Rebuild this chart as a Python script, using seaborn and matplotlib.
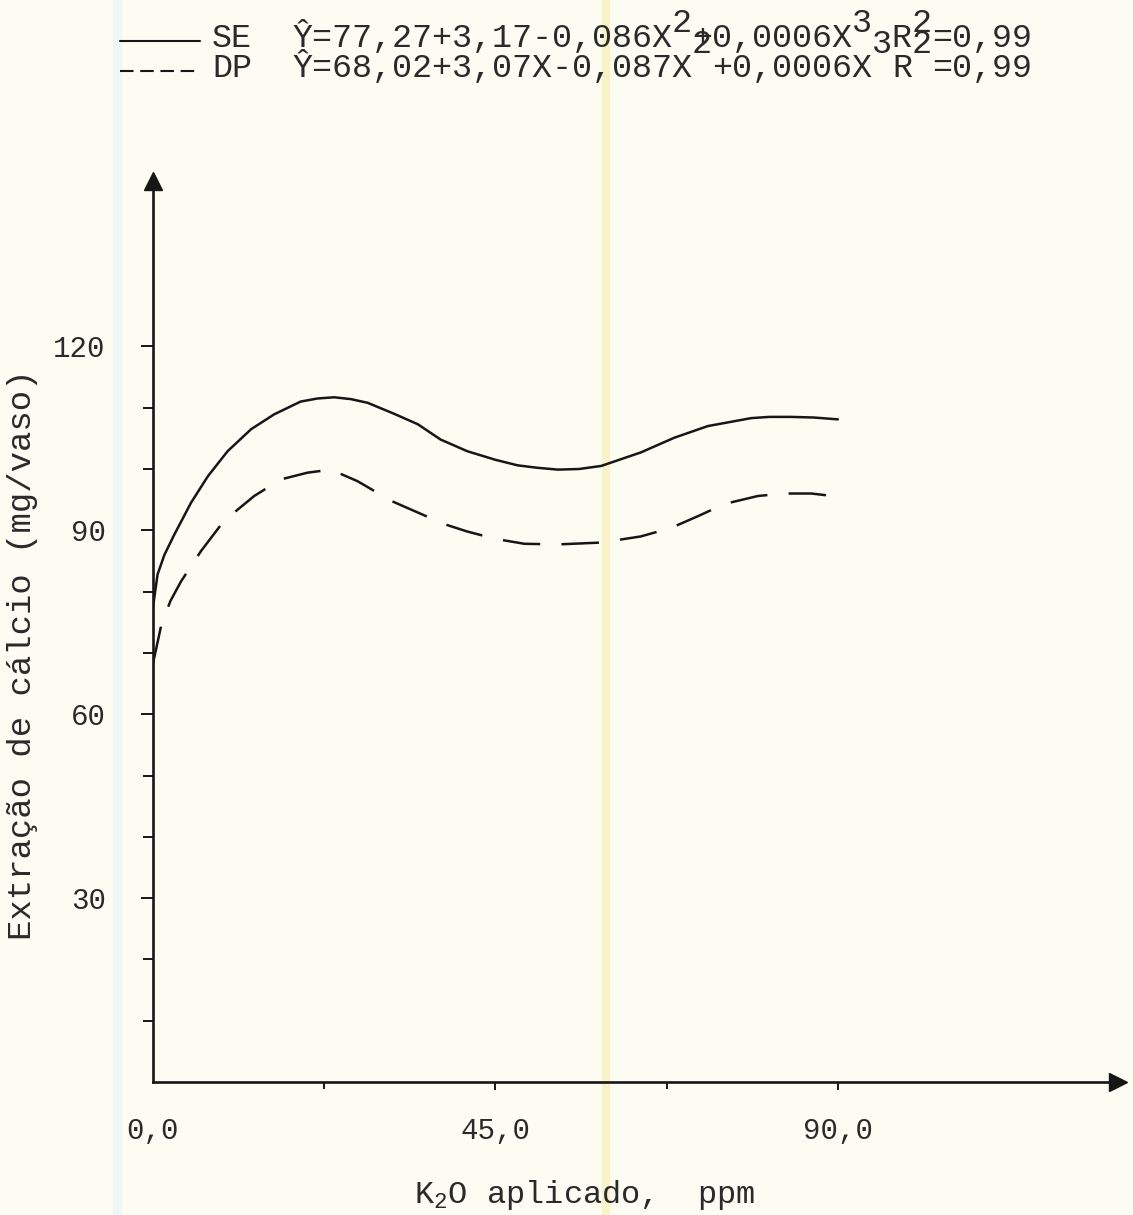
import matplotlib
matplotlib.use("Agg")
import matplotlib.pyplot as plt
from matplotlib.lines import Line2D
from matplotlib.patches import Rectangle
import pandas as pd
import seaborn as sns

# ---------------- data ----------------
dose_se = [0, 0.6, 1.5, 2.8, 5.0, 7.2, 9.8, 12.9, 15.9, 19.4, 21.6, 23.8, 26.0, 28.2,
           31.7, 34.8, 37.8, 41.3, 45.0, 47.9, 50.5, 53.2, 56.0, 58.9, 64.1, 68.5,
           72.9, 78.6, 81.0, 83.8, 86.8, 90.0]
calcio_se = [77.5, 82.8, 86.0, 89.3, 94.5, 98.8, 102.9, 106.5, 108.9, 111.0, 111.5,
             111.7, 111.4, 110.8, 109.0, 107.3, 104.8, 102.9, 101.5, 100.6, 100.2,
             99.9, 100.0, 100.5, 102.7, 105.1, 107.0, 108.3, 108.5, 108.5, 108.4, 108.1]
dose_dp = [0, 1.1, 2.3, 3.7, 6.3, 9.3, 13.3, 16.8, 20.3, 23.4, 24.3, 26.9, 31.3, 34.8,
           38.3, 41.3, 45.0, 48.8, 53.2, 58.9, 64.1, 68.1, 71.6, 75.1, 79.5, 83.0,
           86.5, 90.0]
calcio_dp = [68.3, 74.6, 78.5, 81.7, 86.6, 91.5, 95.6, 98.3, 99.4, 99.9, 99.4, 98.0,
             94.8, 92.9, 91.0, 89.8, 88.6, 87.8, 87.7, 88.0, 89.0, 90.4, 92.3, 94.3,
             95.6, 96.0, 96.0, 95.5]
series_names = ["SE", "DP"]

x_major_ticks = [0, 45, 90]
x_major_labels = ["0,0", "45,0", "90,0"]
x_minor_ticks = [22.5, 67.5]
y_major_ticks = [30, 60, 90, 120]
y_major_labels = ["30", "60", "90", "120"]
y_minor_ticks = [10, 20, 40, 50, 70, 80, 100, 110]

x_label = r"K$_2$O aplicado,  ppm"
y_label = "Extração de cálcio (mg/vaso)"

# equation rows: (text, is_superscript)
eq_se = [("Ŷ=77,27+3,17-0,086X", 0), ("2", 1), ("+0,0006X", 0), ("3", 1),
         (" R", 0), ("2", 1), ("=0,99", 0)]
eq_dp = [("Ŷ=68,02+3,07X-0,087X", 0), ("2", 1), ("+0,0006X", 0), ("3", 1),
         ("R", 0), ("2", 1), ("=0,99", 0)]

# ---------------- style ----------------
BG = "#fdfcf3"
INK = "#161616"
TXT = "#2a2a2a"

sns.set_theme(style="ticks")
plt.rcParams["font.family"] = ["Liberation Mono", "DejaVu Sans Mono"]
plt.rcParams["mathtext.fontset"] = "custom"
plt.rcParams["mathtext.rm"] = "Liberation Mono"
plt.rcParams["mathtext.it"] = "Liberation Mono"
plt.rcParams["mathtext.default"] = "regular"

W, H = 1133, 1215
fig = plt.figure(figsize=(W / 100, H / 100), dpi=100, facecolor=BG)

# faint scan stripes (behind everything)
fig.patches.append(Rectangle((602 / W, 0), 7 / W, 1, transform=fig.transFigure,
                             color="#f8f3c6", zorder=-10))
fig.patches.append(Rectangle((113 / W, 0), 8 / W, 1, transform=fig.transFigure,
                             color="#eef7f6", zorder=-10))

ax_left, ax_bottom, ax_right, ax_top = 153, 1082, 1118, 181
ax = fig.add_axes([ax_left / W, 1 - ax_bottom / H,
                   (ax_right - ax_left) / W, (ax_bottom - ax_top) / H])
ax.set_facecolor("none")

df = pd.concat([
    pd.DataFrame({"dose": dose_se, "calcio": calcio_se, "serie": series_names[0]}),
    pd.DataFrame({"dose": dose_dp, "calcio": calcio_dp, "serie": series_names[1]}),
], ignore_index=True)

sns.lineplot(data=df, x="dose", y="calcio", hue="serie", style="serie",
             palette={"SE": INK, "DP": INK},
             dashes={"SE": "", "DP": (15, 8.5)},
             sort=False, estimator=None, linewidth=1.8, legend=False, ax=ax)
for ln in ax.get_lines():
    ln.set_solid_joinstyle("round")
    ln.set_dash_joinstyle("round")

ax.set_xlim(0, (ax_right - ax_left) / 7.61)
ax.set_ylim(0, (ax_bottom - ax_top) / 6.13)

for s in ["top", "right"]:
    ax.spines[s].set_visible(False)
for s in ["left", "bottom"]:
    ax.spines[s].set_linewidth(1.9)
    ax.spines[s].set_color(INK)

# arrow heads
ax.plot(1, 0, ">", transform=ax.get_yaxis_transform(), clip_on=False,
        ms=13, color=INK, mec=INK)
ax.plot(0, 1, "^", transform=ax.get_xaxis_transform(), clip_on=False,
        ms=13, color=INK, mec=INK)

# ticks
ax.set_xticks(x_major_ticks)
ax.set_xticklabels(x_major_labels)
ax.set_xticks(x_minor_ticks, minor=True)
ax.set_yticks(y_major_ticks)
ax.set_yticklabels(y_major_labels)
ax.set_yticks(y_minor_ticks, minor=True)

ax.tick_params(axis="x", which="major", direction="out", length=6, width=1.4,
               pad=19, labelsize=21, color=INK, labelcolor=TXT)
ax.tick_params(axis="x", which="minor", direction="out", length=5, width=1.4, color=INK)
ax.tick_params(axis="y", which="major", direction="out", length=9, width=1.4,
               pad=25, labelsize=21, color=INK, labelcolor=TXT)
ax.tick_params(axis="y", which="minor", direction="out", length=7.5, width=1.4, color=INK)
ax.xaxis.get_major_ticks()[0].tick1line.set_visible(False)

# axis labels
ax.set_xlabel(x_label, fontsize=23, color=TXT)
ax.xaxis.set_label_coords((585 - ax_left) / (ax_right - ax_left),
                          -(1203 - ax_bottom) / (ax_bottom - ax_top))
ax.xaxis.label.set_va("baseline")
ax.set_ylabel(y_label, fontsize=24.5, color=TXT)
ax.yaxis.set_label_coords((23 - ax_left) / (ax_right - ax_left),
                          (ax_bottom - 655) / (ax_bottom - ax_top))
ax.yaxis.label.set_va("center")

# legend, typewriter style (superscripts typed on a half-line shift)
pitch = 20.0
fs_leg = pitch / 0.6 * 72 / 100
x0 = 212
rows = [(series_names[0], eq_se, 47, 15, "-"),
        (series_names[1], eq_dp, 77, 24, (0, (6.5, 3.2)))]
for name, runs, base, rise, ls in rows:
    fig.add_artist(Line2D([120 / W, 200 / W], [1 - (base - 6) / H] * 2,
                          transform=fig.transFigure, color=INK, lw=1.5, linestyle=ls))
    fig.text(x0 / W, 1 - base / H, name, fontsize=fs_leg, color=TXT,
             va="baseline", ha="left")
    cell = 4
    for txt, sup in runs:
        y = base - (rise if sup else 0)
        fig.text((x0 + cell * pitch) / W, 1 - y / H, txt, fontsize=fs_leg, color=TXT,
                 va="baseline", ha="left")
        cell += len(txt)

fig.savefig("out.png", dpi=100, facecolor=fig.get_facecolor())
